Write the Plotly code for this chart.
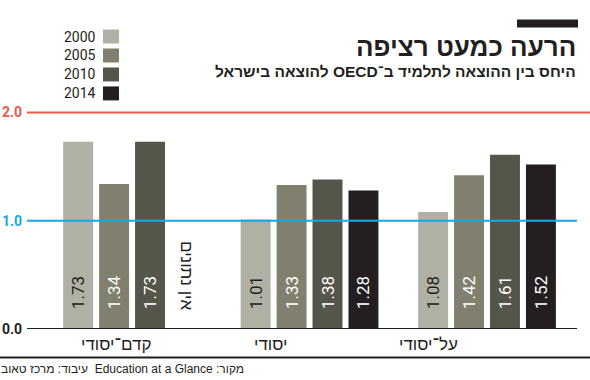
import plotly.graph_objects as go

categories = ["קדם־יסודי", "יסודי", "על־יסודי"]
years = ["2000", "2005", "2010", "2014"]
values = {
    "2000": [1.73, 1.01, 1.08],
    "2005": [1.34, 1.33, 1.42],
    "2010": [1.73, 1.38, 1.61],
    "2014": [None, 1.28, 1.52],
}
colors = {"2000": "#b1b0a4", "2005": "#817f6e", "2010": "#56554a", "2014": "#231f20"}
text_colors = {"2000": "#231f20", "2005": "#ffffff", "2010": "#ffffff", "2014": "#ffffff"}
ytick_vals = [0.0, 1.0, 2.0]
ytick_colors = ["#231f20", "#17a8e6", "#ea5a4c"]
title = "הרעה כמעט רציפה"
subtitle = "היחס בין ההוצאה לתלמיד ב־OECD להוצאה בישראל"
source = "מקור: Education at a Glance  עיבוד: מרכז טאוב"
no_data = "אין נתונים"

RLE, PDF = "\u202b", "\u202c"

W, H = 590, 380
L, R, T, B = 27, 13, 106.6, 51
PW, PH = W - L - R, H - T - B
BARGAP, BARGROUPGAP = 0.19, 0.167
XR = [-0.592, 2.507]
YR = [0, 2.05]

def px(x):
    return (x - L) / PW

def py(y):
    return (H - B - y) / PH

fig = go.Figure()
xs = list(range(len(categories)))
for yr in years:
    fig.add_trace(go.Bar(
        x=xs, y=values[yr], name=yr,
        marker=dict(color=colors[yr], line=dict(width=0)),
        text=["\u00a0\u00a0\u00a0\u00a0" + (f"{v:.2f}" if v is not None else "") for v in values[yr]],
        textposition="inside", insidetextanchor="start", textangle=-90,
        textfont=dict(family="Roboto", size=17, color=text_colors[yr]),
        cliponaxis=False, showlegend=False, hoverinfo="skip",
    ))

shapes = []
annotations = []
# reference lines
shapes.append(dict(type="line", xref="paper", yref="y", x0=0, x1=px(590), y0=2, y1=2,
                   line=dict(color="#ea5a4c", width=2)))
shapes.append(dict(type="line", xref="paper", yref="y", x0=0, x1=1, y0=1, y1=1,
                   line=dict(color="#17a8e6", width=2)))
shapes.append(dict(type="line", xref="paper", yref="y", x0=0, x1=1, y0=0, y1=0,
                   line=dict(color="#231f20", width=2)))
# bottom rule
shapes.append(dict(type="line", xref="paper", yref="paper", x0=px(0), x1=px(590), y0=py(357.5), y1=py(357.5),
                   line=dict(color="#231f20", width=2)))
# title bar
shapes.append(dict(type="rect", xref="paper", yref="paper", x0=px(517), x1=px(578), y0=py(27), y1=py(19),
                   fillcolor="#231f20", line=dict(width=0)))

# y tick labels
for v, c in zip(ytick_vals, ytick_colors):
    annotations.append(dict(x=px(24), y=v, xref="paper", yref="y", text=f"<b>{v:.1f}</b>",
                            showarrow=False, xanchor="right", yanchor="middle",
                            font=dict(family="Liberation Sans Narrow, Roboto", size=14, color=c)))

# category labels
cat_px = [116, 270, 428]
for c, xp in zip(categories, cat_px):
    annotations.append(dict(x=px(xp), y=py(345), xref="paper", yref="paper", text=c, showarrow=False,
                            xanchor="center", yanchor="middle",
                            font=dict(family="Liberation Sans, Arial", size=17, color="#231f20")))

# no data text in empty slot
group_w = 1 - BARGAP
slot_w = group_w / len(years)
slot_x = 0 - group_w / 2 + (3 + 0.5) * slot_w
annotations.append(dict(x=slot_x, y=0.49, xref="x", yref="y", text=no_data, showarrow=False,
                        textangle=90, xanchor="center", yanchor="middle",
                        font=dict(family="Liberation Sans, Arial", size=17, color="#231f20")))

# legend
leg_y = [36, 55, 74, 93]
for yr, yy in zip(years, leg_y):
    annotations.append(dict(x=px(98), y=py(yy), xref="paper", yref="paper", text=yr, showarrow=False,
                            xanchor="right", yanchor="middle",
                            font=dict(family="Roboto", size=14, color="#231f20")))
    shapes.append(dict(type="rect", xref="paper", yref="paper", x0=px(103), x1=px(119),
                       y0=py(yy + 7), y1=py(yy - 7), fillcolor=colors[yr], line=dict(width=0)))

# title & subtitle & source
annotations.append(dict(x=px(578), y=py(46), xref="paper", yref="paper", text=f"<b>{title}</b>",
                        showarrow=False, xanchor="right", yanchor="middle",
                        font=dict(family="Liberation Sans, Arial", size=26, color="#231f20")))
annotations.append(dict(x=px(578), y=py(71), xref="paper", yref="paper", text=f"<b>{RLE}{subtitle}{PDF}</b>",
                        showarrow=False, xanchor="right", yanchor="middle",
                        font=dict(family="Liberation Sans, Arial", size=15.5, color="#231f20")))
annotations.append(dict(x=px(246), y=py(369), xref="paper", yref="paper", text=f"{RLE}{source}{PDF}",
                        showarrow=False, xanchor="right", yanchor="middle",
                        font=dict(family="Liberation Sans, Arial", size=12, color="#231f20")))

fig.update_layout(
    width=W, height=H, autosize=False,
    margin=dict(l=L, r=R, t=T, b=B, pad=0),
    paper_bgcolor="white", plot_bgcolor="white",
    barmode="group", bargap=BARGAP, bargroupgap=BARGROUPGAP,
    xaxis=dict(range=XR, showgrid=False, zeroline=False, showticklabels=False, ticks="", showline=False, fixedrange=True),
    yaxis=dict(range=YR, showgrid=False, zeroline=False, showticklabels=False, ticks="", showline=False, fixedrange=True),
    shapes=shapes, annotations=annotations, hovermode=False,
)
fig.write_html("out.html", config={"displayModeBar": False},
               post_script="document.body.style.margin='0';document.body.style.padding='0';")
